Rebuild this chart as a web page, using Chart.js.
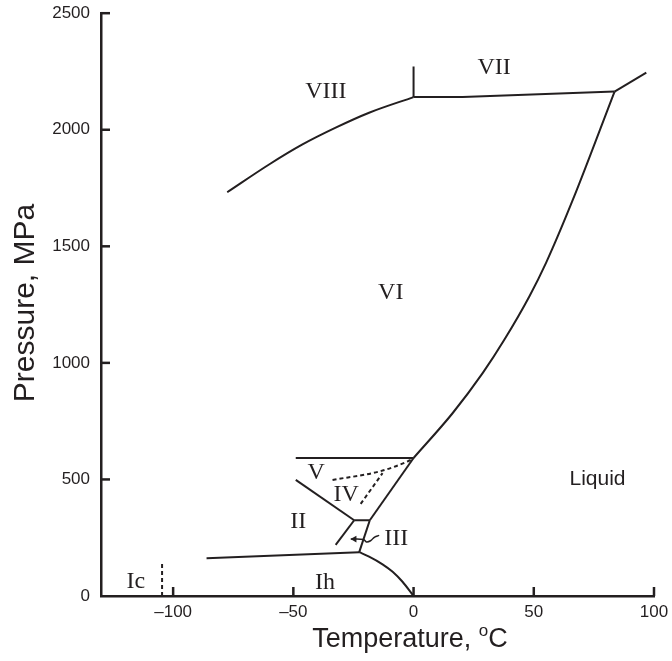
<!DOCTYPE html>
<html>
<head>
<meta charset="utf-8">
<script src="https://cdn.jsdelivr.net/npm/chart.js@4.4.0/dist/chart.umd.min.js"></script>
<style>
  html, body { margin: 0; padding: 0; background: #fff; }
  #wrap { width: 672px; height: 661px; }
</style>
</head>
<body>
<div id="wrap"><canvas id="phase"></canvas></div>
<script>
// axis ticks
const xTicks = [-100, -50, 0, 50, 100];
const yTicks = [0, 500, 1000, 1500, 2000, 2500];

// phase boundaries, [temperature C, pressure MPa]
const ihLiquid = [[-22.6, 188], [-18.5, 169], [-12.9, 136], [-8.7, 104], [-4.6, 61], [0, 0]];
const ihLow = [[-86.1, 162], [-22.6, 188]];
const iiIII = [[-32.4, 219], [-24.7, 325]];
const iiiV = [[-24.7, 325], [-18.2, 325]];
const iiiLiquid = [[-18.2, 325], [-22.6, 188]];
const iiV = [[-49, 498], [-24.7, 325]];
const vTop = [[-49, 592], [0, 592]];
const vLiquid = [[-18.2, 325], [0, 592]];
const viLiquid = [[0, 592], [16.3, 785], [28.8, 957], [37.8, 1100], [48.2, 1286], [55.1, 1429], [66.3, 1701], [83.6, 2164]];
const viiLiquid = [[83.6, 2164], [96.8, 2245]];
const viiLow = [[0, 2140], [20.4, 2140], [83.6, 2164]];
const viiViii = [[0, 2140], [0, 2271]];
const viiiVi = [[-77.5, 1732], [-60.1, 1851], [-46.2, 1937], [-32.4, 2009], [-18.5, 2073], [0, 2140]];
const ivUpper = [[-33.7, 498], [-14.3, 534], [-2.5, 577], [0, 590]];
const ivLower = [[-22, 395], [-12.9, 527]];
const icLine = [[-104.6, 0], [-104.6, 137]];
const iiiArrow = [[-14.3, 260], [-16.2, 253], [-17.9, 237], [-19.6, 232], [-20.8, 242], [-26.1, 244]];
const iiiArrowHead = [[-24.6, 244]];

// region names
const regionNames = ['VIII', 'VII', 'VI', 'V', 'IV', 'II', 'III', 'Ih', 'Ic', 'Liquid'];
const regionT = [-36.5, 33.5, -9.5, -40.5, -28, -48, -7.2, -36.8, -115.5, 76.5];
const regionP = [2165, 2268, 1302, 527, 434, 319, 245, 55, 61, 503];

const INK = '#231f20';
const pts = arr => arr.map(p => ({ x: p[0], y: p[1] }));

function seg(data, opts) {
  return Object.assign({
    data: pts(data), showLine: true, borderColor: INK, borderWidth: 2,
    pointRadius: 0, tension: 0, fill: false
  }, opts || {});
}

const datasets = [
  seg(ihLiquid, { cubicInterpolationMode: 'monotone' }),
  seg(ihLow),
  seg(iiIII),
  seg(iiiV),
  seg(iiiLiquid),
  seg(iiV),
  seg(vTop),
  seg(vLiquid),
  seg(viLiquid, { cubicInterpolationMode: 'monotone' }),
  seg(viiLiquid),
  seg(viiLow),
  seg(viiViii),
  seg(viiiVi, { cubicInterpolationMode: 'monotone' }),
  seg(ivUpper, { borderDash: [4, 3], cubicInterpolationMode: 'monotone' }),
  seg(ivLower, { borderDash: [4, 3] }),
  seg(icLine, { borderDash: [4, 3] }),
  seg(iiiArrow, { borderWidth: 1.5, tension: 0.4 }),
  { data: pts(iiiArrowHead), showLine: false, pointStyle: 'triangle', rotation: -90,
    pointRadius: 4, backgroundColor: INK, borderColor: INK, borderWidth: 0 }
];

// inward tick marks, axis titles, region labels
const decor = {
  id: 'decor',
  afterDraw(chart) {
    const { ctx, chartArea: a, scales: { x, y } } = chart;
    ctx.save();
    ctx.strokeStyle = INK;
    ctx.lineWidth = 2.5;
    xTicks.forEach(v => {
      const px = x.getPixelForValue(v);
      ctx.beginPath(); ctx.moveTo(px, a.bottom); ctx.lineTo(px, a.bottom - 9); ctx.stroke();
    });
    yTicks.forEach(v => {
      if (v === 0) return;
      const py = y.getPixelForValue(v);
      ctx.beginPath(); ctx.moveTo(a.left, py); ctx.lineTo(a.left + 9, py); ctx.stroke();
    });

    ctx.fillStyle = INK;
    ctx.textAlign = 'center';
    ctx.textBaseline = 'middle';
    regionNames.forEach((name, i) => {
      ctx.font = name === 'Liquid' ? '21px "Liberation Sans", Arial, sans-serif'
                                   : '24px "Liberation Serif", "Times New Roman", serif';
      ctx.fillText(name, x.getPixelForValue(regionT[i]), y.getPixelForValue(regionP[i]));
    });

    // y title
    ctx.font = '30px "Liberation Sans", Arial, sans-serif';
    ctx.save();
    ctx.translate(26, 303);
    ctx.rotate(-Math.PI / 2);
    ctx.fillText('Pressure, MPa', 0, 0);
    ctx.restore();

    // x title with raised o
    const main = 'Temperature, ';
    ctx.textAlign = 'left';
    const big = '27px "Liberation Sans", Arial, sans-serif';
    const small = '17px "Liberation Sans", Arial, sans-serif';
    ctx.font = big; const w1 = ctx.measureText(main).width; const wC = ctx.measureText('C').width;
    ctx.font = small; const wo = ctx.measureText('o').width;
    let sx = 410 - (w1 + wo + wC) / 2;
    const ty = 640;
    ctx.font = big; ctx.fillText(main, sx, ty); sx += w1;
    ctx.font = small; ctx.fillText('o', sx, ty - 9); sx += wo;
    ctx.font = big; ctx.fillText('C', sx, ty);
    ctx.restore();
  }
};

new Chart(document.getElementById('phase'), {
  type: 'scatter',
  data: { datasets },
  plugins: [decor],
  options: {
    responsive: true,
    maintainAspectRatio: false,
    animation: false,
    layout: { padding: { left: 0, right: 18, top: 9, bottom: 0 } },
    plugins: { legend: { display: false }, tooltip: { enabled: false } },
    scales: {
      x: {
        type: 'linear', min: -130, max: 100,
        afterFit: s => { s.height = 65; },
        afterBuildTicks: s => { s.ticks = xTicks.map(v => ({ value: v })); },
        grid: { display: false },
        border: { display: true, color: INK, width: 2.5 },
        ticks: {
          color: INK, padding: -2,
          font: { family: '"Liberation Sans", Arial, sans-serif', size: 17 },
          callback: v => (v < 0 ? '\u2013' + Math.abs(v) : String(v))
        }
      },
      y: {
        type: 'linear', min: 0, max: 2500,
        afterFit: s => { s.width = 101; },
        afterBuildTicks: s => { s.ticks = yTicks.map(v => ({ value: v })); },
        grid: { display: false },
        border: { display: true, color: INK, width: 2.5 },
        ticks: {
          color: INK, padding: 3,
          font: { family: '"Liberation Sans", Arial, sans-serif', size: 17 },
          callback: v => String(v)
        }
      }
    }
  }
});
</script>
</body>
</html>
